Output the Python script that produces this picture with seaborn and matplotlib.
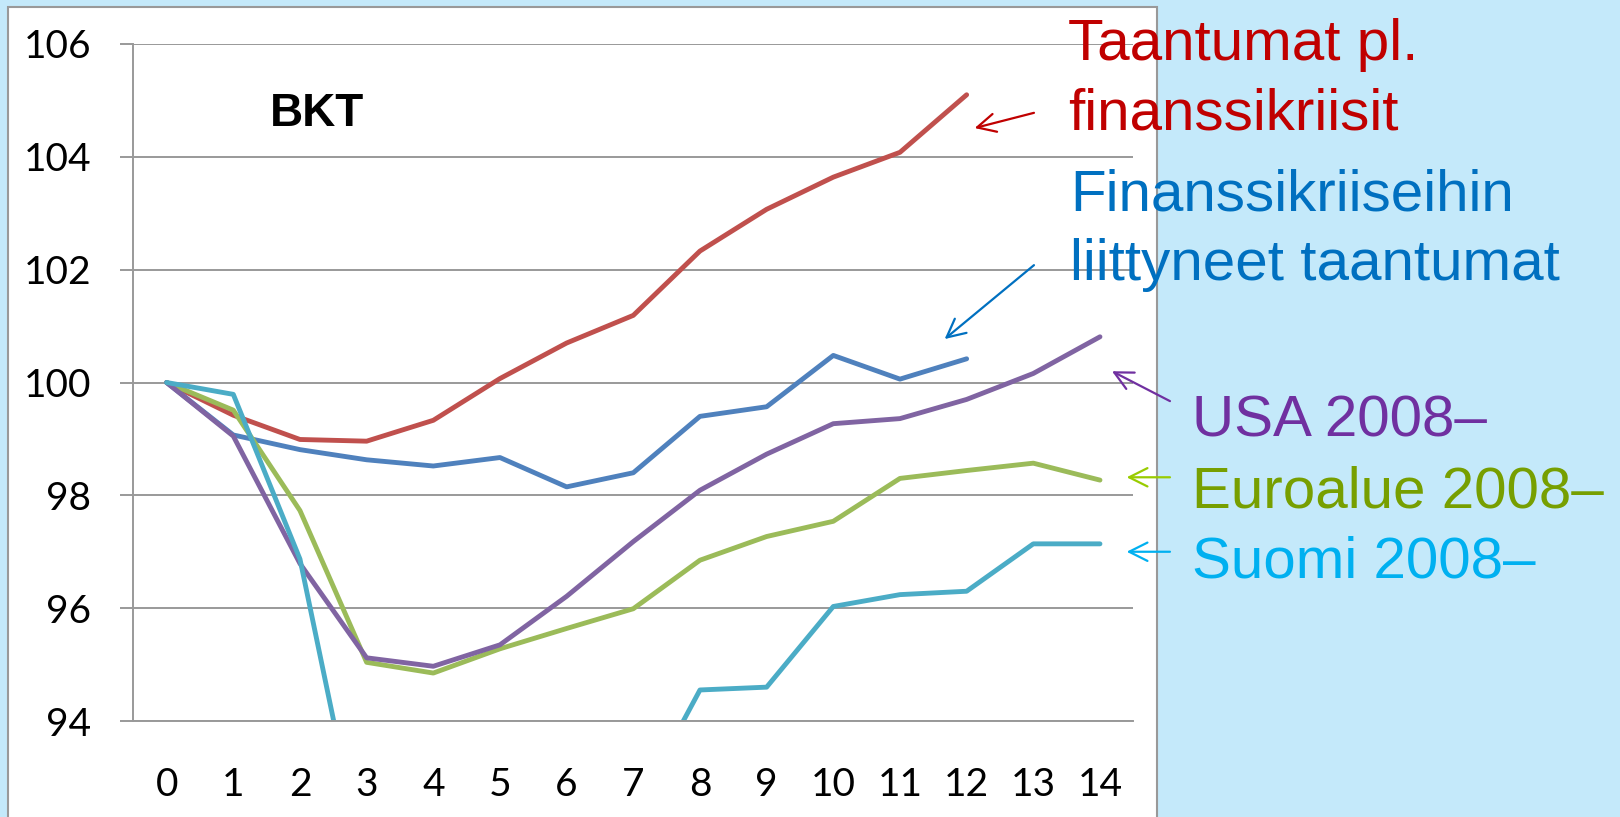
import numpy as np
import pandas as pd
import seaborn as sns
import matplotlib.pyplot as plt
from matplotlib.patches import Rectangle

sns.set_style("white")
plt.rcParams['font.family'] = ['Liberation Sans', 'DejaVu Sans']

# quarters since the start of the recession, index = 100 at quarter 0
quarters = list(range(15))
tick_labels = [str(q) for q in quarters]
yticks = [94, 96, 98, 100, 102, 104, 106]

red_vals = [100, 99.42, 98.99, 98.96, 99.33, 100.07, 100.70, 101.19, 102.33,
            103.07, 103.64, 104.08, 105.10]
blue_vals = [100, 99.07, 98.81, 98.63, 98.52, 98.67, 98.15, 98.40, 99.40,
             99.57, 100.48, 100.06, 100.42]
green_vals = [100, 99.51, 97.73, 95.04, 94.85, 95.28, 95.64, 95.99, 96.85,
              97.27, 97.54, 98.30, 98.44, 98.57, 98.27]
usa_vals = [100, 99.05, 96.79, 95.12, 94.97, 95.35, 96.21, 97.18, 98.09,
            98.73, 99.27, 99.36, 99.70, 100.16, 100.81]
fin_vals = [100, 99.79, 96.87, 91.2, 90.3, 90.5, 90.9, 92.35, 94.55,
            94.60, 96.03, 96.24, 96.30, 97.14, 97.14]

series = [
    (red_vals, '#C0504D'),
    (blue_vals, '#4F81BD'),
    (green_vals, '#9BBB59'),
    (usa_vals, '#8064A2'),
    (fin_vals, '#4BACC6'),
]

W, H = 1620, 817
fig = plt.figure(figsize=(W / 100, H / 100), dpi=100, facecolor='#c4e9fa')

# white chart panel
fig.add_artist(Rectangle((8 / W, -0.05), (1157 - 8) / W, 1 - 7 / H + 0.05,
                         transform=fig.transFigure, facecolor='white',
                         edgecolor='#999999', lw=1.5, zorder=-2))

ax = fig.add_axes([133.3 / W, 1 - 721 / H, 1000 / W, 677 / H])
ax.set_facecolor('none')

for vals, col in series:
    sns.lineplot(x=quarters[:len(vals)], y=vals, color=col, lw=3.5,
                 solid_capstyle='round', ax=ax)

ax.set_xlim(-0.5, 14.5)
ax.set_ylim(94, 106)
ax.set_yticks(yticks)
ax.set_xticks(quarters)
ax.set_xticklabels(tick_labels)
ax.set_xticks(np.arange(-0.5, 15, 1), minor=True)
ax.grid(axis='y', color='#999999', lw=1.4)
ax.tick_params(axis='x', which='major', length=0, pad=33, labelsize=28,
               labelcolor='black')
ax.tick_params(axis='x', which='minor', length=10, width=1.4,
               color='#999999', direction='out')
ax.tick_params(axis='y', length=9.4, width=1.4, color='#999999',
               pad=21, labelsize=28, left=True, labelcolor='black')
for lab in ax.get_xticklabels() + ax.get_yticklabels():
    lab.set_family(['Lato', 'DejaVu Sans'])
for s in ['top', 'right']:
    ax.spines[s].set_visible(False)
for s in ['left', 'bottom']:
    ax.spines[s].set_color('#999999')
    ax.spines[s].set_linewidth(1.4)
ax.set_xlabel('')
ax.set_ylabel('')

ax.text(270 / W, 1 - 126 / H, 'BKT', transform=fig.transFigure,
        fontsize=33, fontweight='bold', color='black', va='baseline')

# arrows pointing at the series
arrows = [
    ((12.12, 104.51), (13.01, 104.78), '#C00000'),
    ((11.67, 100.77), (13.01, 102.08), '#0070C0'),
    ((14.18, 100.20), (15.05, 99.67), '#7030A0'),
    ((14.40, 98.32), (15.05, 98.32), '#99CC00'),
    ((14.40, 97.00), (15.05, 97.00), '#00B0F0'),
]
for head, tail, col in arrows:
    ax.annotate('', xy=head, xytext=tail, annotation_clip=False,
                arrowprops=dict(arrowstyle='->,head_length=0.6,head_width=0.3',
                                color=col, lw=1.6, mutation_scale=22,
                                shrinkA=0, shrinkB=0))

labels = [
    ('Taantumat pl.', 1068, 60, '#C00000'),
    ('finanssikriisit', 1068, 129, '#C00000'),
    ('Finanssikriiseihin', 1070, 210, '#0070C0'),
    ('liittyneet taantumat', 1070, 280, '#0070C0'),
    ('USA 2008\u2013', 1192, 437, '#7030A0'),
    ('Euroalue 2008\u2013', 1192, 507, '#779F00'),
    ('Suomi 2008\u2013', 1192, 577, '#00B0F0'),
]
for txt, x, y, col in labels:
    fig.text(x / W, 1 - y / H, txt, fontsize=42, color=col,
             ha='left', va='baseline', zorder=5)

fig.savefig('out.png', dpi=100)
